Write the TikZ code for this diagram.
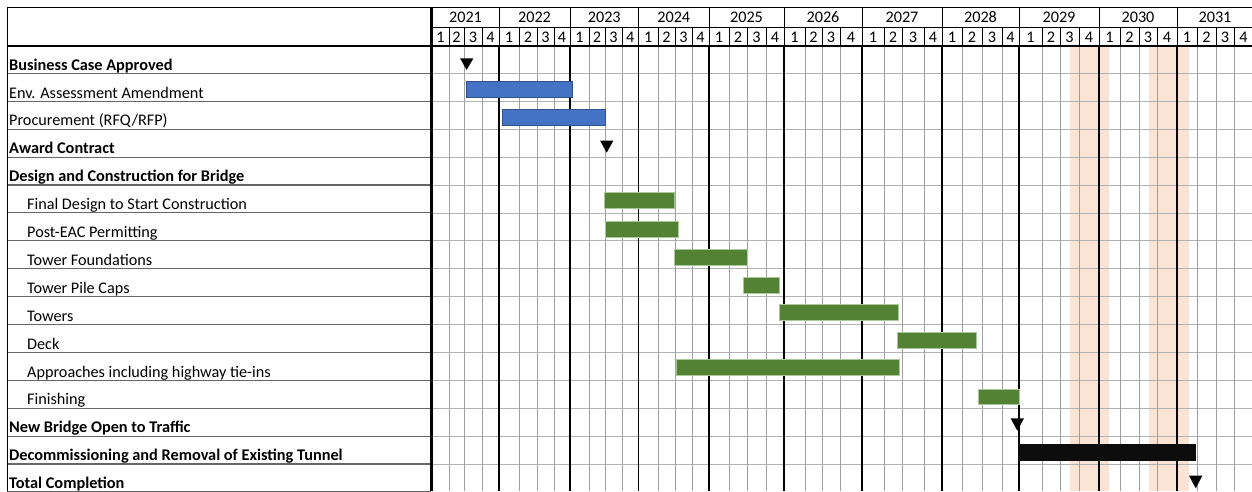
\documentclass[tikz,border=0pt]{standalone}
\usepackage{fontspec}
\setmainfont{Carlito}
\definecolor{barblue}{HTML}{4472C4}
\definecolor{barblueline}{HTML}{2F528F}
\definecolor{bargreen}{HTML}{548235}
\definecolor{bargreenline}{HTML}{A9C99A}
\definecolor{barblack}{HTML}{0D0D0D}
\definecolor{stripe}{HTML}{FBE3D6}
\begin{document}
\begin{tikzpicture}[x=1pt,y=-1pt,
  font=\fontsize{16.2}{18}\selectfont,
  lbl/.style={anchor=base west, inner sep=0pt},
  hdr/.style={anchor=center, inner sep=0pt},
  qline/.style={draw=gray!75, line width=0.7pt},
  yline/.style={draw=black, line width=1.1pt},
  rline/.style={draw=gray!60, line width=0.7pt},
  lline/.style={draw=gray!80!black, line width=1.1pt},
  hline/.style={draw=black, line width=0.9pt},
  bluebar/.style={fill=barblue, draw=barblueline, line width=0.8pt},
  greenbar/.style={fill=bargreen, draw=bargreenline, line width=0.8pt},
  blackbar/.style={fill=barblack, draw=barblack, line width=0.5pt},
  milestone/.style={fill=black}]
\useasboundingbox (0,0) rectangle (1252,491);
\clip (0,0) rectangle (1252,491);
\fill[white] (0,0) rectangle (1252,491);
\def\QX{{432,449,464,482,499,519,537,554,570,589,605,622,638.5,658,675,692,709,729,747,766,784,805,822,840,862,884,902,924,942,962,982,1002,1019,1042,1060,1079,1099,1120,1139,1157,1177,1197,1216,1234,1253}}
% highlighted stripes
\fill[stripe] (1070,46) rectangle (1109,491);
\fill[stripe] (1149,46) rectangle (1189,491);
% body horizontal row lines
\foreach \k in {1,...,16} {
  \pgfmathsetmacro\yy{45.5+27.9*\k}
  \draw[rline] (431,\yy) -- (1253,\yy);
  \draw[lline] (7,\yy) -- (431,\yy);
}
% body vertical lines
\foreach \i in {0,...,44} {
  \pgfmathsetmacro\xx{\QX[\i]}
  \pgfmathtruncatemacro\m{mod(\i,4)}
  \ifnum\m=0
    \draw[yline] (\xx,46) -- (\xx,491);
  \else
    \draw[qline] (\xx,46) -- (\xx,491);
  \fi
  % header quarter row
  \draw[hline] (\xx,27) -- (\xx,46);
  \ifnum\m=0 \draw[hline] (\xx,7) -- (\xx,27); \fi
}
% header horizontal lines
\draw[hline] (7,7) -- (1253,7);
\draw[hline] (431,27) -- (1253,27);
\draw[draw=black, line width=1.6pt] (7,46) -- (1253,46);
% label column borders
\draw[hline] (7,7) -- (7,491);
\draw[draw=black, line width=1.3pt] (431,7) -- (431,491);
% quarter labels
\foreach \i in {0,...,43} {
  \pgfmathsetmacro\xa{\QX[\i]}
  \pgfmathsetmacro\xb{\QX[\i+1]}
  \pgfmathtruncatemacro\q{mod(\i,4)+1}
  \node[hdr] (q\i) at ({(\xa+\xb)/2},36.8) {\q};
}
% year labels
\foreach \yr [count=\j from 0] in {2021,2022,2023,2024,2025,2026,2027,2028,2029,2030,2031} {
  \pgfmathsetmacro\xa{\QX[4*\j]}
  \pgfmathsetmacro\xb{\QX[4*\j+4]}
  \node[hdr] (y\yr) at ({(\xa+\xb)/2},17.2) {\yr};
}
% task labels
\foreach \t/\ind/\bf [count=\k] in {
  {Business Case Approved}/9/1,
  {Env. Assessment Amendment}/9/0,
  {Procurement (RFQ/RFP)}/9/0,
  {Award Contract}/9/1,
  {Design and Construction for Bridge}/9/1,
  {Final Design to Start Construction}/27/0,
  {Post-EAC Permitting}/27/0,
  {Tower Foundations}/27/0,
  {Tower Pile Caps}/27/0,
  {Towers}/27/0,
  {Deck}/27/0,
  {Approaches including highway tie-ins}/27/0,
  {Finishing}/27/0,
  {New Bridge Open to Traffic}/9/1,
  {Decommissioning and Removal of Existing Tunnel}/9/1,
  {Total Completion}/9/1} {
  \pgfmathsetmacro\yy{45.5+27.9*\k-3.3}
  \ifnum\bf=1
    \node[lbl, font=\fontsize{16.3}{18}\selectfont\bfseries] (t\k) at (\ind,\yy) {\t};
  \else
    \node[lbl, font=\fontsize{16.2}{18}\selectfont] (t\k) at (\ind,\yy) {\t};
  \fi
}
% bars
\draw[bluebar] (466,81) rectangle (572.5,97.3);
\draw[bluebar] (502.7,109.3) rectangle (605.3,125.7);
\draw[greenbar] (604,192.7) rectangle (674.3,208.7);
\draw[greenbar] (605,221) rectangle (678,237.7);
\draw[greenbar] (674.7,249.3) rectangle (747.3,265);
\draw[greenbar] (743.3,277) rectangle (779.7,293);
\draw[greenbar] (779.7,304) rectangle (898.7,320);
\draw[greenbar] (897.7,332) rectangle (976,348.7);
\draw[greenbar] (676,359.3) rectangle (899.3,375.3);
\draw[greenbar] (978.7,389.3) rectangle (1019.3,404.7);
\draw[blackbar] (1018,444) rectangle (1195,460.7);
% milestones
\fill[milestone] (460,58.3) -- (473.4,58.3) -- (466.7,70) -- cycle;
\fill[milestone] (600,140.5) -- (613.4,140.5) -- (606.7,152.7) -- cycle;
\fill[milestone] (1010.6,418.3) -- (1024,418.3) -- (1017.3,430.7) -- cycle;
\fill[milestone] (1189,475.7) -- (1202.4,475.7) -- (1195.7,488.3) -- cycle;
\end{tikzpicture}
\end{document}
